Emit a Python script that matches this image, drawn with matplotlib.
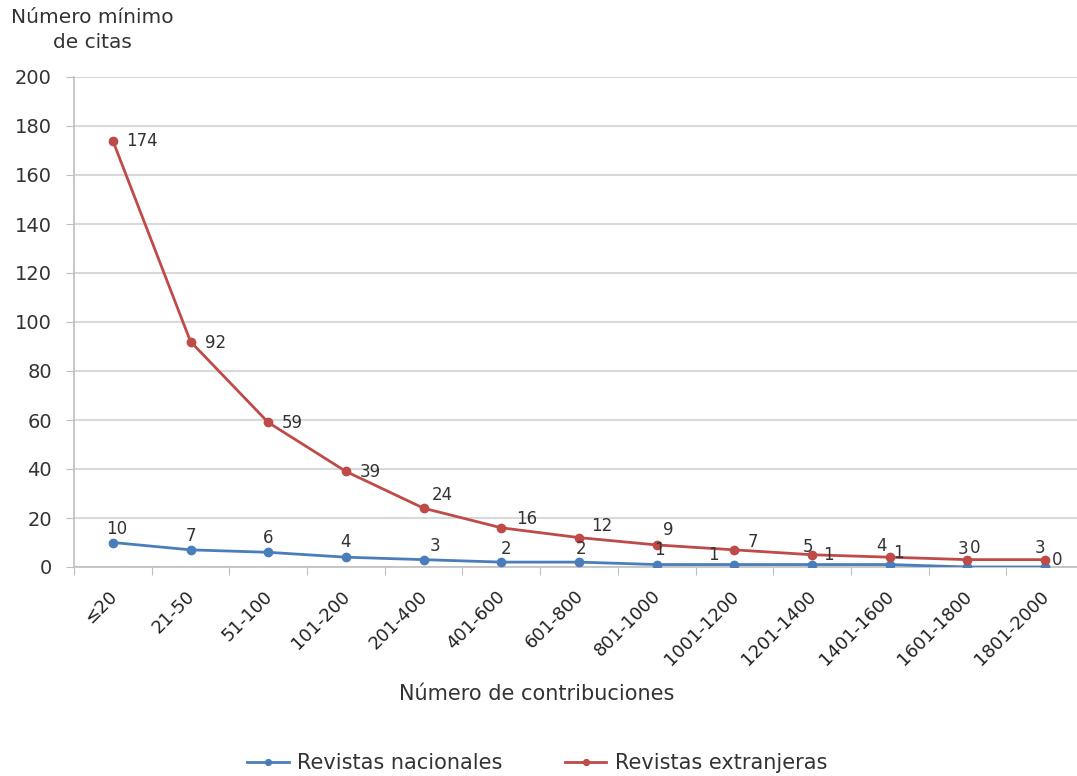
import matplotlib.pyplot as plt
import numpy as np

plt.rcParams['font.family'] = ['DejaVu Sans']

# categories and values
categories = ['≤20', '21-50', '51-100', '101-200', '201-400', '401-600', '601-800',
              '801-1000', '1001-1200', '1201-1400', '1401-1600', '1601-1800', '1801-2000']
nacionales = [10, 7, 6, 4, 3, 2, 2, 1, 1, 1, 1, 0, 0]
extranjeras = [174, 92, 59, 39, 24, 16, 12, 9, 7, 5, 4, 3, 3]

# label offsets in pixels (dx, dy), Excel-like placement
off_nac = [(4, 13), (0, 14), (0, 14), (0, 15), (11, 14), (5, 13), (2, 13), (3, 15),
           (-21, 10), (16, 10), (9, 12), (8, 19), (12, 7)]
off_ext = [(29, 0), (25, -1), (24, -1), (24, -1), (19, 13), (25, 9), (23, 12), (12, 15),
           (18, 8), (-4, 8), (-8, 11), (-4, 11), (-5, 12)]

blue = '#4a7ebb'
red = '#be4b48'
txt = '#333333'
PX = 0.72  # points per pixel at dpi 100

fig = plt.figure(figsize=(10.77, 7.76), dpi=100)
ax = fig.add_axes([74 / 1077, 1 - 567 / 776, (1077 - 74) / 1077, (567 - 77) / 776])

x = np.arange(len(categories))
ax.plot(x, nacionales, color=blue, lw=2, marker='o', ms=6, label='Revistas nacionales', zorder=3)
ax.plot(x, extranjeras, color=red, lw=2, marker='o', ms=6, label='Revistas extranjeras', zorder=4)

for i in range(len(categories)):
    ax.annotate(str(nacionales[i]), (x[i], nacionales[i]),
                xytext=(off_nac[i][0] * PX, off_nac[i][1] * PX), textcoords='offset points',
                ha='center', va='center', fontsize=12, color=txt, zorder=5)
    ax.annotate(str(extranjeras[i]), (x[i], extranjeras[i]),
                xytext=(off_ext[i][0] * PX, off_ext[i][1] * PX), textcoords='offset points',
                ha='center', va='center', fontsize=12, color=txt, zorder=5)

ax.set_xlim(-0.5, 12.41)
ax.set_ylim(0, 200)
ax.set_yticks(range(0, 201, 20))
ax.yaxis.grid(True, color='#d9d9d9', lw=1.5)
ax.set_axisbelow(True)
for s in ['top', 'right']:
    ax.spines[s].set_visible(False)
for s in ['left', 'bottom']:
    ax.spines[s].set_color('#bfbfbf')
    ax.spines[s].set_linewidth(1.2)
ax.tick_params(axis='y', length=6, color='#bfbfbf', labelsize=14, labelcolor=txt, pad=10)

# category labels between boundary ticks
ax.set_xticks(np.arange(-0.5, 12.5, 1))
ax.set_xticklabels([])
ax.tick_params(axis='x', length=6, color='#bfbfbf')
for i, c in enumerate(categories):
    ax.annotate(c, (x[i], 0), xytext=(-5 * PX, -20 * PX), textcoords='offset points',
                rotation=45, ha='right', va='top', rotation_mode='anchor',
                fontsize=13, color='#222222', annotation_clip=False)

fig.text(92 / 1077, 1 - 30 / 776, 'Número mínimo\nde citas', ha='center', va='center',
         multialignment='center', fontsize=14.5, color=txt, linespacing=1.35)
fig.text(537 / 1077, 1 - 694 / 776, 'Número de contribuciones', ha='center', va='center',
         fontsize=15, color=txt)

fig.legend(loc='center', bbox_to_anchor=(537 / 1077, 1 - 763 / 776), ncol=2, frameon=False,
           fontsize=15, labelcolor=txt, handlelength=2.0, handletextpad=0.4,
           columnspacing=3.0, markerscale=0.7)

plt.savefig('out.png', dpi=100)
